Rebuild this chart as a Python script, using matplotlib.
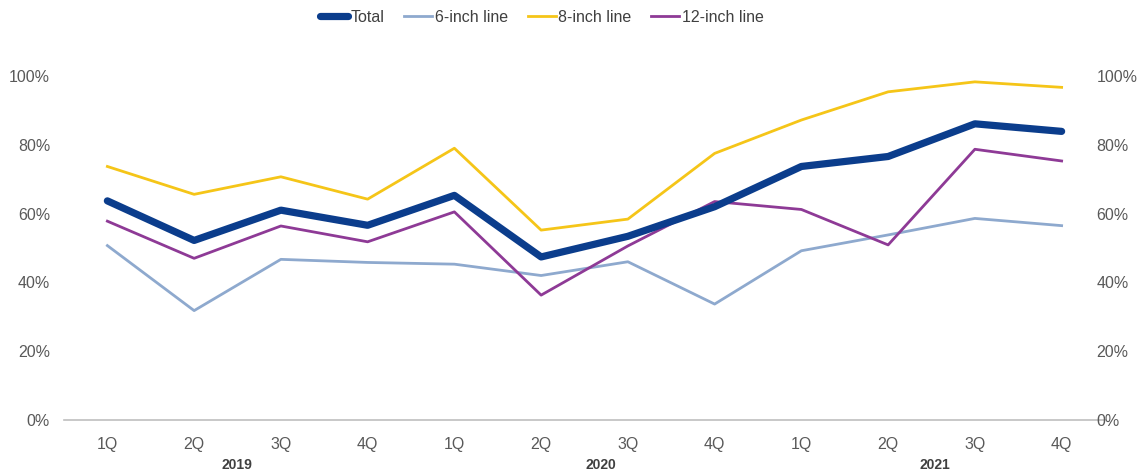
import matplotlib
matplotlib.use("Agg")
import matplotlib.pyplot as plt
from matplotlib.transforms import blended_transform_factory
from matplotlib.ticker import PercentFormatter

plt.rcParams['font.family'] = ['Liberation Sans', 'DejaVu Sans']

quarters = ["1Q", "2Q", "3Q", "4Q"] * 3
years = ["2019", "2020", "2021"]
year_pos = [1.49, 5.69, 9.54]
total = [63.7, 52.2, 61.0, 56.6, 65.3, 47.4, 53.4, 62.0, 73.7, 76.6, 86.1, 83.9]
inch6 = [50.7, 31.8, 46.7, 45.8, 45.3, 42.0, 46.0, 33.7, 49.2, 53.8, 58.6, 56.5]
inch8 = [73.7, 65.6, 70.7, 64.2, 79.0, 55.2, 58.4, 77.5, 87.2, 95.4, 98.3, 96.7]
inch12 = [57.8, 47.0, 56.4, 51.8, 60.5, 36.3, 50.6, 63.5, 61.2, 50.9, 78.7, 75.3]

fig = plt.figure(figsize=(11.41, 4.76), dpi=100)
ax = fig.add_axes([64/1141, 56/476, 1041/1141, 344/476])
x = list(range(len(quarters)))

ax.plot(x, total, color="#0B3D8C", lw=5.2, solid_capstyle="round", solid_joinstyle="round", label="Total", zorder=5)
ax.plot(x, inch6, color="#8EA9CE", lw=2.0, label="6-inch line", zorder=3)
ax.plot(x, inch8, color="#F5C518", lw=2.0, label="8-inch line", zorder=3)
ax.plot(x, inch12, color="#8E3A96", lw=2.0, label="12-inch line", zorder=4)

ax.set_xlim(-0.5, len(x) - 0.5)
ax.set_ylim(0, 100)
ax.set_yticks(range(0, 101, 20))
ax.yaxis.set_major_formatter(PercentFormatter(decimals=0))
ax.set_xticks(x)
ax.set_xticklabels(quarters)
for s in ["top", "right", "left"]:
    ax.spines[s].set_visible(False)
ax.spines["bottom"].set_color("#BFBFBF")
ax.spines["bottom"].set_linewidth(1.2)
ax.tick_params(axis="both", length=0, labelsize=11.5, colors="#595959")
ax.tick_params(axis="x", pad=12)
ax.tick_params(axis="y", pad=10)

ax2 = ax.twinx()
ax2.set_ylim(0, 100)
ax2.set_yticks(range(0, 101, 20))
ax2.yaxis.set_major_formatter(PercentFormatter(decimals=0))
for s in ["top", "right", "left", "bottom"]:
    ax2.spines[s].set_visible(False)
ax2.tick_params(axis="y", length=0, labelsize=11.5, colors="#595959", pad=-6)

tr = blended_transform_factory(ax.transData, fig.transFigure)
for xp, yr in zip(year_pos, years):
    ax.text(xp, 1 - 465/476, yr, transform=tr, ha="center", va="center",
            fontsize=10, fontweight="bold", color="#404040")

leg = fig.legend(loc="center", bbox_to_anchor=(542/1141, 1 - 17/476), ncol=4, frameon=False,
                 fontsize=11.5, handlelength=1.75, handletextpad=0.15, columnspacing=1.25,
                 borderpad=0)
for t in leg.get_texts():
    t.set_color("#404040")

fig.savefig("out.png", dpi=100)
